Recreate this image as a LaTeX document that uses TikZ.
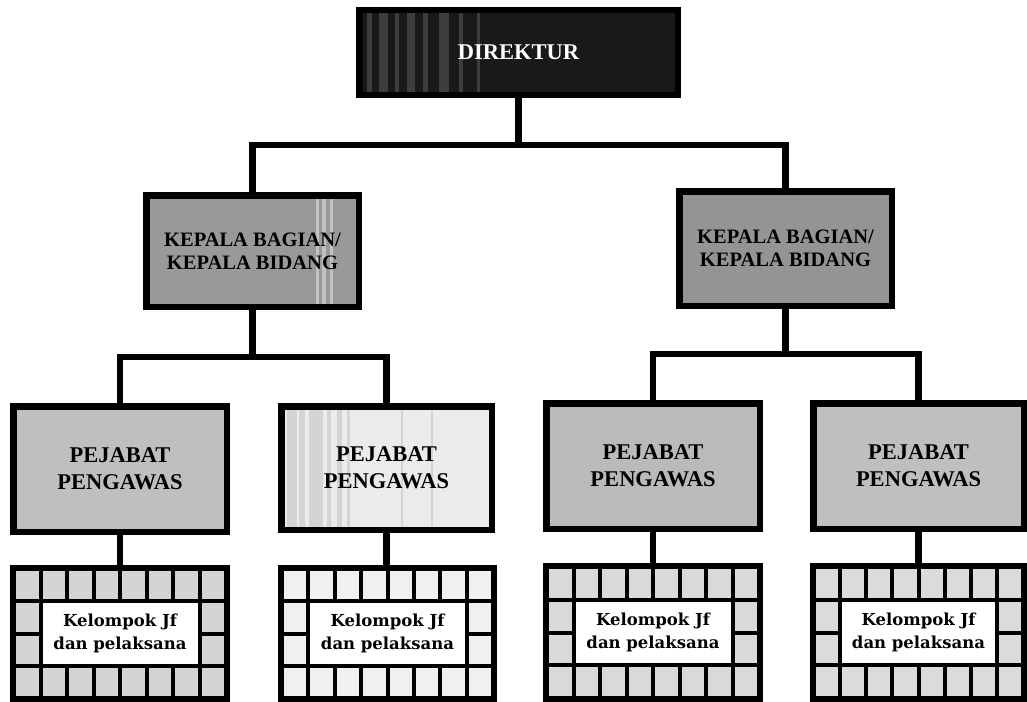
\documentclass[tikz,border=0pt]{standalone}
\usepackage{fontspec}
\setmainfont{Liberation Serif}
\newfontfamily\kelfont{DejaVu Serif}
\newcommand\kelgrid[6]{%
  % #1 name, #2 x0, #3 y0, #4 x1, #5 y1, #6 cell colour
  \node[kelouter, minimum width={#4-#2}, minimum height={#5-#3}, anchor=north west] (#1) at (#2,#3) {};
  \pgfmathsetmacro\kcw{(#4-#2-8)/8}
  \pgfmathsetmacro\krh{(#5-#3-8)/4}
  \foreach \ki in {0,...,7}{\foreach \kj in {0,3}{%
    \fill[#6] ({#2+4+\ki*\kcw+2},{#3+4+\kj*\krh+2}) rectangle ({#2+4+(\ki+1)*\kcw-2},{#3+4+(\kj+1)*\krh-2});}}
  \foreach \ki in {0,7}{\foreach \kj in {1,2}{%
    \fill[#6] ({#2+4+\ki*\kcw+2},{#3+4+\kj*\krh+2}) rectangle ({#2+4+(\ki+1)*\kcw-2},{#3+4+(\kj+1)*\krh-2});}}
  \fill[white] ({#2+4+\kcw+2},{#3+4+\krh+2}) rectangle ({#2+4+7*\kcw-2},{#3+4+3*\krh-2});
  \node[keltext] (#1t) at ({(#2+#4)/2},{#3+4+2*\krh}) {Kelompok Jf\\dan pelaksana};
}
\begin{document}
\begin{tikzpicture}[x=1pt,y=-1pt,
  box/.style={draw=black, line width=6.5pt, inner sep=0pt, outer sep=0pt, align=center},
  kelouter/.style={fill=black, inner sep=0pt, outer sep=0pt},
  keltext/.style={align=center, inner sep=0pt, font=\kelfont\bfseries\fontsize{16.5}{23}\selectfont},
  kepfont/.style={font=\bfseries\fontsize{20.5}{23}\selectfont},
  pejfont/.style={font=\bfseries\fontsize{22.5}{27}\selectfont},
  conn/.style={line width=6.5pt, line join=miter, line cap=rect}]
\useasboundingbox (0,0) rectangle (1027,701);
\fill[white] (0,0) rectangle (1027,701);

% Level 0
\node[box, fill=black!90, text=white, minimum width=318.5, minimum height=84.5,
  font=\bfseries\fontsize{22.5}{26}\selectfont,
  path picture={\foreach \sx/\sw in {8/5,20/9,36/4,48/8,64/5,80/10,100/4,118/3}{
      \fill[black!76] ([xshift=\sx pt]path picture bounding box.north west) rectangle ++(\sw,100);}}]
  (dir) at (518.5,52.5) {DIREKTUR};

% Level 1
\node[box, fill=black!40, kepfont, minimum width=212.5, minimum height=111.5,
  path picture={\foreach \sx/\sw in {170/3,176/4,184/3}{
      \fill[black!24] ([xshift=\sx pt]path picture bounding box.north west) rectangle ++(\sw,130);}}]
  (kl) at (252.5,251) {KEPALA BAGIAN/\\KEPALA BIDANG};
\node[box, fill=black!42, kepfont, minimum width=212.5, minimum height=114.5]
  (kr) at (785.5,248.5) {KEPALA BAGIAN/\\KEPALA BIDANG};

% Level 2
\node[box, fill=black!25, pejfont, minimum width=213.5, minimum height=125.5] (p1) at (120,469) {PEJABAT\\PENGAWAS};
\node[box, fill=black!8, pejfont, minimum width=210.5, minimum height=123.5,
  path picture={\foreach \sx/\sw in {6/10,18/6,28/14,46/4,56/5,66/3,120/2,150/2}{
      \fill[black!17] ([xshift=\sx pt]path picture bounding box.north west) rectangle ++(\sw,140);}}]
  (p2) at (386.5,468) {PEJABAT\\PENGAWAS};
\node[box, fill=black!27, pejfont, minimum width=213.5, minimum height=125.5] (p3) at (653,466) {PEJABAT\\PENGAWAS};
\node[box, fill=black!25, pejfont, minimum width=210.5, minimum height=125.5] (p4) at (918.5,466) {PEJABAT\\PENGAWAS};

% Level 3
\kelgrid{k1}{10}{565}{230}{702}{black!17}
\kelgrid{k2}{278}{565}{497}{702}{black!6}
\kelgrid{k3}{543}{563}{763}{702}{black!15}
\kelgrid{k4}{810}{563}{1027}{702}{black!14}

% Connectors
\draw[conn] (dir.south) -- (dir.south |- 0,145) coordinate (h0);
\draw[conn] (kl.north) |- (h0) -| (kr.north);
\draw[conn] (kl.south) -- (kl.south |- 0,357) coordinate (h1);
\draw[conn] (p1.north) |- (h1) -| (p2.north);
\draw[conn] (kr.south) -- (kr.south |- 0,354) coordinate (h2);
\draw[conn] (p3.north) |- (h2) -| (p4.north);
\draw[conn] (p1.south) -- (p1.south |- k1.north);
\draw[conn] (p2.south) -- (p2.south |- k2.north);
\draw[conn] (p3.south) -- (p3.south |- k3.north);
\draw[conn] (p4.south) -- (p4.south |- k4.north);
\end{tikzpicture}
\end{document}
